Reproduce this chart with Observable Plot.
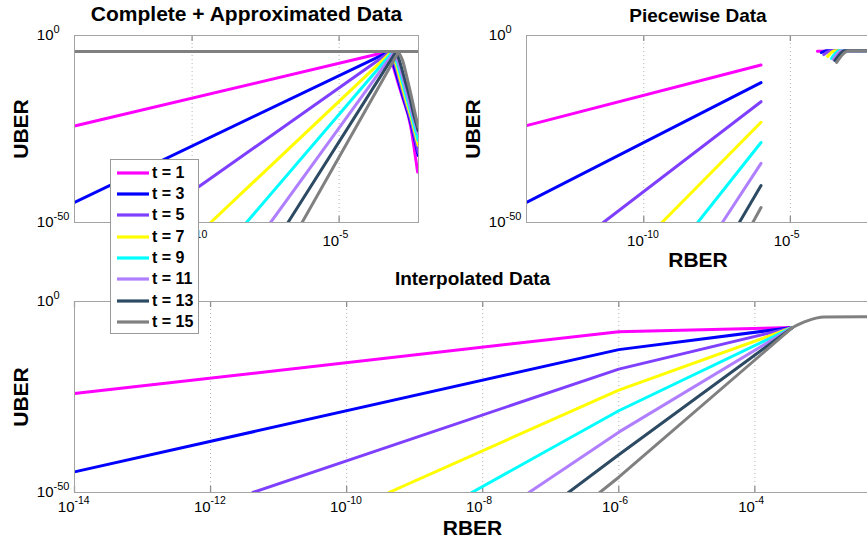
<!DOCTYPE html>
<html><head><meta charset="utf-8">
<script src="https://cdn.jsdelivr.net/npm/d3@7"></script>
<script src="https://cdn.jsdelivr.net/npm/@observablehq/plot@0.6"></script>
<style>
html,body{margin:0;padding:0;background:#fff;}
#wrap{position:relative;width:867px;height:542px;overflow:hidden;background:#fff;font-family:"Liberation Sans",Arial,Helvetica,sans-serif;}
.panel{position:absolute;}
#legend{position:absolute;left:110px;top:159px;width:89px;height:175px;border:1px solid #9a9a9a;background:#fff;padding-top:2px;box-sizing:border-box;}
.row{height:21.35px;display:flex;align-items:center;}
.row svg{margin-left:6px;display:block;}
.row span{font-weight:bold;font-size:16px;margin-left:3px;color:#000;}
</style></head><body><div id="wrap"></div>
<script>
// ---------- data (exponents: RBER = 10^x, UBER = 10^y) ----------
const tValues = [1, 3, 5, 7, 9, 11, 13, 15];
const seriesColors = ["#ff00ff", "#0000ff", "#7f3fff", "#ffff00", "#00ffff", "#b07fff", "#2d4a63", "#808080"];

const xDomainExp = [-14, -2.3];
const yDomainExp = [-50, 0];
const topXTicks = [-10, -5];
const bottomXTicks = [-14, -12, -10, -8, -6, -4];
const yTicks = [-50, 0];

const titles = ["Complete + Approximated Data", "Piecewise Data", "Interpolated Data"];

// Complete + Approximated: straight rise, then drop after the peak
const approxStartX = [-14, -14, -11.5, -9.37, -8.15, -7.33, -6.74, -6.26];
const approxStartY = [-24.2, -44.6, -50, -50, -50, -50, -50, -50];
const approxTailX = [
  [-3.32, -3.22, -3.02, -2.84, -2.57, -2.46, -2.33],
  [-3.29, -3.19, -2.99, -2.81, -2.56, -2.44, -2.31],
  [-3.25, -3.14, -2.95, -2.78, -2.55, -2.43, -2.31],
  [-3.21, -3.10, -2.91, -2.74, -2.53, -2.42, -2.31],
  [-3.17, -3.06, -2.86, -2.69, -2.51, -2.41, -2.31],
  [-3.12, -3.01, -2.81, -2.64, -2.49, -2.39, -2.31],
  [-3.06, -2.95, -2.76, -2.58, -2.46, -2.37, -2.31],
  [-2.98, -2.84, -2.67, -2.51, -2.40, -2.31]
];
const approxTailY = [
  [-4.3, -6.7, -12.0, -16.6, -24.1, -29.4, -36.5],
  [-4.3, -6.7, -12.0, -16.8, -23.5, -27.5, -32.1],
  [-4.3, -6.7, -12.0, -16.8, -23.0, -27.0, -31.2],
  [-4.3, -6.7, -12.0, -16.9, -22.5, -26.0, -29.4],
  [-4.3, -6.7, -12.0, -17.0, -22.0, -25.2, -28.1],
  [-4.3, -6.7, -12.0, -17.0, -21.5, -24.0, -26.2],
  [-4.3, -6.7, -12.0, -17.1, -21.2, -23.7, -25.4],
  [-4.4, -6.7, -12.0, -17.4, -21.4, -24.5]
];
const completeFlatY = -4.28;

// Piecewise: low-RBER part (shared with interpolated) and high-RBER part
const lowStartX = [-14, -14, -11.38, -9.38, -8.16, -7.32, -6.74, -6.28];
const lowStartY = [-24.1, -44.6, -50, -50, -50, -50, -50, -50];
const lowEndX = -6;
const lowEndY = [-7.9, -12.6, -17.7, -23.2, -28.6, -34.2, -40.1, -46.0];
const highX = [
  [-4.08, -2.3],
  [-3.94, -3.85, -3.76, -2.3],
  [-3.86, -3.74, -3.62, -2.3],
  [-3.73, -3.61, -3.49, -2.3],
  [-3.60, -3.47, -3.35, -2.3],
  [-3.53, -3.39, -3.25, -2.3],
  [-3.48, -3.31, -3.15, -2.3],
  [-3.42, -3.23, -3.01, -2.3]
];
const highY = [
  [-4.2, -4.1],
  [-4.55, -4.25, -4.1, -4.1],
  [-5.1, -4.45, -4.1, -4.1],
  [-5.6, -4.6, -4.1, -4.1],
  [-6.15, -4.8, -4.1, -4.1],
  [-6.4, -4.9, -4.1, -4.1],
  [-6.7, -5.0, -4.1, -4.1],
  [-7.2, -5.2, -4.1, -4.1]
];

// Interpolated: lines meet, then t = 15 saturates
const meetX = -3.445;
const meetY = -6.8;
const t15TailX = [-3.445, -3.33, -3.22, -3.10, -2.98, -2.3];
const t15TailY = [-6.8, -5.8, -5.0, -4.35, -4.05, -4.0];

// ---------- drawing ----------
const ex = v => Math.pow(10, v);
const pts = (xs, ys) => xs.map((x, i) => ({x: ex(x), y: ex(ys[i])}));
const FONT = '"Liberation Sans", Arial, Helvetica, sans-serif';
const GRID = "#b4b4b4", FRAME = "#a3a3a3", TICK = "#8f8f8f";
const LW = 3;

function panel(o) {
  const fh = o.height - o.marginTop - o.marginBottom;
  const tickLen = 6;
  const marks = [
    Plot.ruleX(o.xticks, {x: d => ex(d), stroke: GRID, strokeDasharray: "1,3"}),
    Plot.ruleX(o.xticks, {x: d => ex(d), stroke: TICK, insetBottom: fh - tickLen, strokeWidth: 1.3}),
    Plot.ruleX(o.xticks, {x: d => ex(d), stroke: TICK, insetTop: fh - tickLen, strokeWidth: 1.3}),
    ...o.lines,
    Plot.frame({stroke: FRAME}),
    Plot.text(o.xticks, {x: d => ex(d), frameAnchor: "bottom", lineAnchor: "middle", textAnchor: "end", dy: o.xLabDy, text: () => "10", fontSize: 15}),
    Plot.text(o.xticks, {x: d => ex(d), frameAnchor: "bottom", lineAnchor: "middle", textAnchor: "start", dy: o.xLabDy - 7, text: d => String(d), fontSize: 10.5}),
    Plot.text(yTicks, {y: d => ex(d), frameAnchor: "left", textAnchor: "end", lineAnchor: "middle", dx: -21, text: () => "10", fontSize: 15}),
    Plot.text(yTicks, {y: d => ex(d), frameAnchor: "left", textAnchor: "start", lineAnchor: "middle", dx: -21, dy: -6, text: d => String(d), fontSize: 11}),
    Plot.text([o.title], {frameAnchor: "top", lineAnchor: "bottom", textAnchor: "middle", dy: o.titleDy, fontSize: o.titleSize, fontWeight: "bold", text: d => d}),
    Plot.text(["UBER"], {frameAnchor: "left", textAnchor: "middle", lineAnchor: "middle", rotate: -90, dx: -53, fontSize: 21, fontWeight: "bold", text: d => d})
  ];
  if (o.xLabel) marks.push(Plot.text([o.xLabel], {frameAnchor: "bottom", textAnchor: "middle", lineAnchor: "middle", dy: o.xLabelDy, fontSize: 21, fontWeight: "bold", text: d => d}));
  const svg = Plot.plot({
    width: o.width, height: o.height,
    marginLeft: o.marginLeft, marginRight: o.marginRight, marginTop: o.marginTop, marginBottom: o.marginBottom,
    style: {background: "transparent", maxWidth: "none", overflow: "visible", fontFamily: FONT, fontSize: "15px", color: "#000"},
    x: {type: "log", domain: xDomainExp.map(ex), axis: null},
    y: {type: "log", domain: yDomainExp.map(ex), axis: null},
    marks
  });
  const div = document.createElement("div");
  div.className = "panel";
  div.style.left = o.left + "px";
  div.style.top = o.top + "px";
  div.style.width = o.width + "px";
  div.appendChild(svg);
  document.getElementById("wrap").appendChild(div);
}

// Panel A: Complete + Approximated
const linesA = [];
tValues.forEach((t, i) => {
  linesA.push(Plot.line(pts([approxStartX[i], approxTailX[i][0]], [approxStartY[i], approxTailY[i][0]]), {x: "x", y: "y", stroke: seriesColors[i], strokeWidth: LW, clip: true}));
  linesA.push(Plot.line(pts(approxTailX[i], approxTailY[i]), {x: "x", y: "y", stroke: seriesColors[i], strokeWidth: LW, curve: "monotone-x", clip: true}));
});
linesA.push(Plot.line(pts(xDomainExp, [completeFlatY, completeFlatY]), {x: "x", y: "y", stroke: seriesColors[7], strokeWidth: LW, clip: true}));

// Panel B: Piecewise
const linesB = [];
tValues.forEach((t, i) => {
  linesB.push(Plot.line(pts([lowStartX[i], lowEndX], [lowStartY[i], lowEndY[i]]), {x: "x", y: "y", stroke: seriesColors[i], strokeWidth: LW, clip: true}));
  linesB.push(Plot.line(pts(highX[i], highY[i]), {x: "x", y: "y", stroke: seriesColors[i], strokeWidth: LW, curve: "monotone-x", clip: true}));
});

// Panel C: Interpolated
const linesC = [];
tValues.forEach((t, i) => {
  linesC.push(Plot.line(pts([lowStartX[i], lowEndX, meetX], [lowStartY[i], lowEndY[i], meetY]), {x: "x", y: "y", stroke: seriesColors[i], strokeWidth: LW, clip: true}));
});
linesC.push(Plot.line(pts(t15TailX, t15TailY), {x: "x", y: "y", stroke: seriesColors[7], strokeWidth: LW, curve: "monotone-x", clip: true}));

panel({left: 0, top: 0, width: 430, height: 280, marginLeft: 74, marginRight: 12, marginTop: 35, marginBottom: 58,
  xticks: topXTicks, lines: linesA, title: titles[0], titleDy: -14.5, titleSize: 21, xLabDy: 19});
panel({left: 430, top: 0, width: 441, height: 280, marginLeft: 96, marginRight: 2, marginTop: 35, marginBottom: 58,
  xticks: topXTicks, lines: linesB, title: titles[1], titleDy: -14, titleSize: 19, xLabDy: 19, xLabel: "RBER", xLabelDy: 37.5});
panel({left: 0, top: 270, width: 872, height: 272, marginLeft: 74, marginRight: 2, marginTop: 31, marginBottom: 50,
  xticks: bottomXTicks, lines: linesC, title: titles[2], titleDy: -17, titleSize: 19, xLabDy: 15, xLabel: "RBER", xLabelDy: 36});

// Legend
const legend = document.createElement("div");
legend.id = "legend";
tValues.forEach((t, i) => {
  const row = document.createElement("div");
  row.className = "row";
  row.innerHTML = `<svg width="32" height="6"><line x1="0" x2="32" y1="3" y2="3" stroke="${seriesColors[i]}" stroke-width="3.2"/></svg><span>t = ${t}</span>`;
  legend.appendChild(row);
});
document.getElementById("wrap").appendChild(legend);
</script></body></html>
